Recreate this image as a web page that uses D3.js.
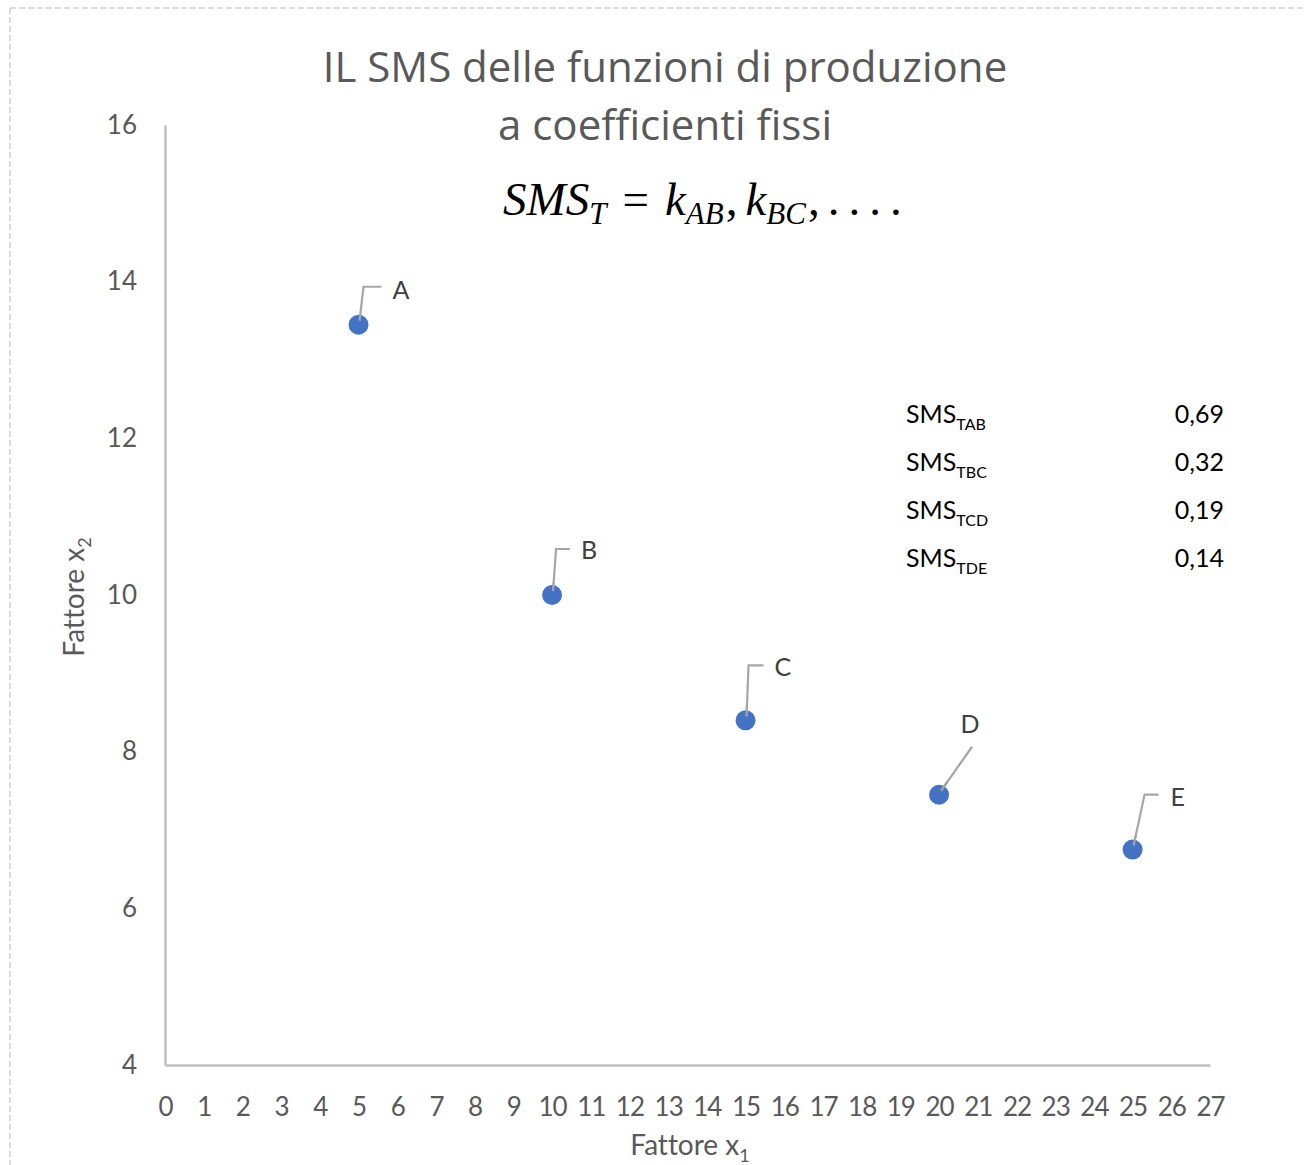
<!DOCTYPE html>
<html>
<head>
<meta charset="utf-8">
<script src="https://cdn.jsdelivr.net/npm/d3@7"></script>
<style>
  body { margin: 0; background: #fff; }
  text { font-family: Lato, "Open Sans", sans-serif; font-variant-ligatures: none; }
</style>
</head>
<body>
<div id="chart"></div>
<script>
// data
var pointNames = ['A', 'B', 'C', 'D', 'E'];
var x1Values = [5, 10, 15, 20, 25];
var x2Values = [13.45, 10, 8.4, 7.45, 6.75];

// table of SMS values
var smsSubs = ['TAB', 'TBC', 'TCD', 'TDE'];
var smsValues = ['0,69', '0,32', '0,19', '0,14'];

var xTicks = d3.range(0, 28);
var yTicks = [4, 6, 8, 10, 12, 14, 16];

var svgWidth = 1304;
var svgHeight = 1165;

var svg = d3.select('#chart')
  .append('svg')
  .attr('width', svgWidth)
  .attr('height', svgHeight);

// dashed frame (top & left edges visible)
svg.append('line')
  .attr('x1', 10).attr('y1', 8).attr('x2', svgWidth).attr('y2', 8)
  .attr('stroke', '#d0d0d0').attr('stroke-width', 1.5).attr('stroke-dasharray', '6,3');
svg.append('line')
  .attr('x1', 10).attr('y1', 8).attr('x2', 10).attr('y2', svgHeight)
  .attr('stroke', '#d0d0d0').attr('stroke-width', 1.5).attr('stroke-dasharray', '6,3');

// scales
var xScale = d3.scaleLinear().domain([0, 27]).range([165, 1210]);
var yScale = d3.scaleLinear().domain([4, 16]).range([1065, 125]);

// axes
var xAxis = svg.append('g')
  .attr('transform', `translate(0, ${yScale(4)})`)
  .call(d3.axisBottom(xScale).tickValues(xTicks).tickSize(0).tickPadding(30).tickFormat(d3.format('d')));

var yAxis = svg.append('g')
  .attr('transform', `translate(${xScale(0)}, 0)`)
  .call(d3.axisLeft(yScale).tickValues(yTicks).tickSize(0).tickPadding(28).tickFormat(d3.format('d')));

[xAxis, yAxis].forEach(function(ax) {
  ax.select('.domain').attr('stroke', '#bfbfbf').attr('stroke-width', 2.5);
  ax.selectAll('text')
    .attr('fill', '#595959')
    .style('font-size', '26px')
    .style('font-family', 'Lato, sans-serif');
});
xAxis.selectAll('text').attr('dy', '0.32em').attr('y', 43);
xAxis.selectAll('text').attr('letter-spacing', '-1px');

// axis titles
var xTitle = svg.append('text')
  .attr('x', 690).attr('y', 1155)
  .attr('text-anchor', 'middle')
  .attr('fill', '#595959')
  .style('font-size', '28px');
xTitle.append('tspan').text('Fattore x');
xTitle.append('tspan').attr('dy', 7).style('font-size', '18px').text('1');

var yTitle = svg.append('text')
  .attr('transform', 'translate(84, 597) rotate(-90)')
  .attr('text-anchor', 'middle')
  .attr('fill', '#595959')
  .style('font-size', '28px');
yTitle.append('tspan').text('Fattore x');
yTitle.append('tspan').attr('dy', 7).style('font-size', '18px').text('2');

// chart title
svg.append('text')
  .attr('x', 665).attr('y', 82)
  .attr('text-anchor', 'middle')
  .attr('fill', '#595959')
  .style('font-family', '"Open Sans", sans-serif')
  .style('font-size', '42px')
  .text('IL SMS delle funzioni di produzione');
svg.append('text')
  .attr('x', 665).attr('y', 140)
  .attr('text-anchor', 'middle')
  .attr('fill', '#595959')
  .style('font-family', '"Open Sans", sans-serif')
  .style('font-size', '42px')
  .text('a coefficienti fissi');

// formula
var formula = svg.append('text')
  .attr('x', 503).attr('y', 215)
  .attr('fill', '#000')
  .style('font-family', '"Liberation Serif", "DejaVu Serif", serif')
  .style('font-size', '47px')
  .style('font-style', 'italic');
formula.append('tspan').text('SMS');
formula.append('tspan').attr('dy', 9).style('font-size', '31px').text('T');
formula.append('tspan').attr('dy', -9).attr('dx', 16).style('font-style', 'normal').text('=');
formula.append('tspan').attr('dx', 16).text('k');
formula.append('tspan').attr('dy', 9).style('font-size', '31px').text('AB');
formula.append('tspan').attr('dy', -9).attr('dx', 2).style('font-style', 'normal').text(',');
formula.append('tspan').attr('dx', 8).text('k');
formula.append('tspan').attr('dy', 9).style('font-size', '31px').text('BC');
formula.append('tspan').attr('dy', -9).attr('dx', 2).style('font-style', 'normal').text(',');
formula.append('tspan').attr('dx', 8).style('font-style', 'normal').attr('letter-spacing', '9px').text('....');

// leader lines and label offsets per point
var leaders = [
  { pts: [[1, -4], [5, -38], [23, -38]], lx: 34, ly: -26, anchor: 'start' },
  { pts: [[1, -4], [4, -46], [18, -46]], lx: 29, ly: -36, anchor: 'start' },
  { pts: [[1, -4], [3, -55], [18, -55]], lx: 29, ly: -44, anchor: 'start' },
  { pts: [[2, -4], [33, -48]], lx: 31, ly: -62, anchor: 'middle' },
  { pts: [[1, -4], [12, -55], [26, -55]], lx: 38, ly: -44, anchor: 'start' }
];

var pointData = pointNames.map(function(n, i) {
  return { name: n, x1: x1Values[i], x2: x2Values[i], lead: leaders[i] };
});

svg.selectAll('path.leader')
  .data(pointData)
  .enter()
  .append('path')
  .attr('class', 'leader')
  .attr('fill', 'none')
  .attr('stroke', '#a6a6a6')
  .attr('stroke-width', 2.2)
  .attr('d', function(d) {
    var cx = xScale(d.x1), cy = yScale(d.x2);
    return d3.line()(d.lead.pts.map(p => [cx + p[0], cy + p[1]]));
  });

svg.selectAll('circle.pt')
  .data(pointData)
  .enter()
  .append('circle')
  .attr('class', 'pt')
  .attr('cx', d => xScale(d.x1))
  .attr('cy', d => yScale(d.x2))
  .attr('r', 10)
  .attr('fill', '#4472c4');

// redraw the short stub of leader over the circle
svg.selectAll('path.stub')
  .data(pointData)
  .enter()
  .append('path')
  .attr('class', 'stub')
  .attr('fill', 'none')
  .attr('stroke', '#a6a6a6')
  .attr('stroke-width', 2.2)
  .attr('d', function(d) {
    var cx = xScale(d.x1), cy = yScale(d.x2);
    var p0 = d.lead.pts[0], p1 = d.lead.pts[1];
    return d3.line()([[cx + p0[0], cy + p0[1]], [cx + p0[0] + (p1[0] - p0[0]) * 0.2, cy + p0[1] + (p1[1] - p0[1]) * 0.2]]);
  });

svg.selectAll('text.ptlabel')
  .data(pointData)
  .enter()
  .append('text')
  .attr('class', 'ptlabel')
  .attr('x', d => xScale(d.x1) + d.lead.lx)
  .attr('y', d => yScale(d.x2) + d.lead.ly)
  .attr('text-anchor', d => d.lead.anchor)
  .attr('fill', '#404040')
  .style('font-size', '25px')
  .text(d => d.name);

// SMS table
var rows = svg.selectAll('g.smsrow')
  .data(smsSubs)
  .enter()
  .append('g')
  .attr('class', 'smsrow')
  .attr('transform', (d, i) => `translate(0, ${423 + i * 48})`);

var label = rows.append('text')
  .attr('x', 906)
  .attr('fill', '#000')
  .style('font-size', '25px');
label.append('tspan').text('SMS');
label.append('tspan').attr('dy', 7).style('font-size', '16px').text(d => d);

rows.append('text')
  .attr('x', 1224)
  .attr('text-anchor', 'end')
  .attr('fill', '#000')
  .style('font-size', '25px')
  .text((d, i) => smsValues[i]);
</script>
</body>
</html>
